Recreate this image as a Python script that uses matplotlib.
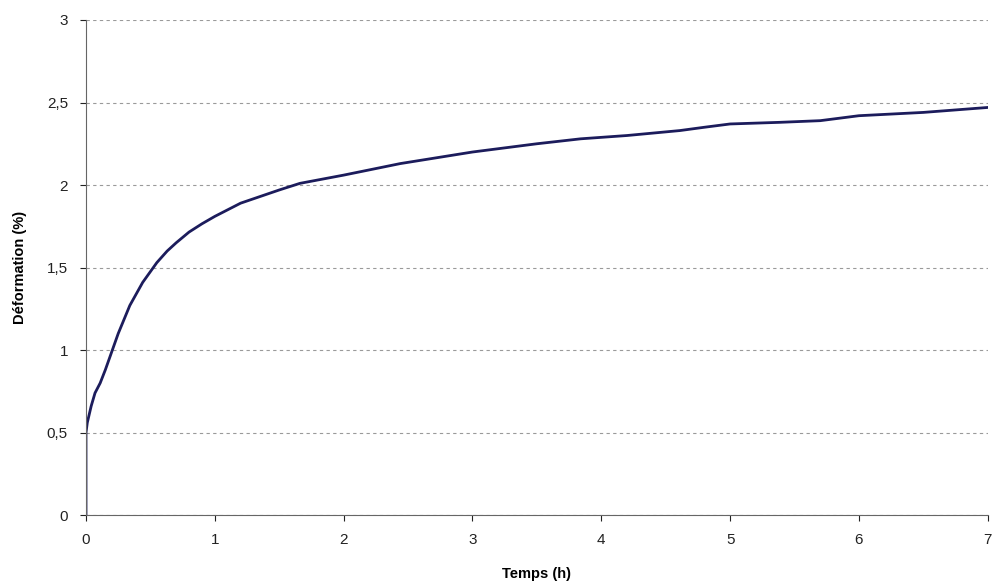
import matplotlib.pyplot as plt

# Courbe de fluage : temps (h) vs deformation (%)
temps = [0, 0.0, 0.01, 0.04, 0.07, 0.11, 0.15, 0.2, 0.25, 0.34, 0.44, 0.55, 0.63, 0.7,
         0.8, 0.9, 1.0, 1.2, 1.5, 1.66, 2.0, 2.44, 3.0, 3.5, 3.84, 4.2, 4.61, 4.8,
         5.0, 5.39, 5.7, 6.0, 6.5, 7.0]
deformation = [0, 0.5, 0.56, 0.66, 0.74, 0.8, 0.88, 0.99, 1.1, 1.27, 1.41, 1.53, 1.6,
               1.65, 1.715, 1.765, 1.81, 1.89, 1.97, 2.01, 2.06, 2.13, 2.2, 2.25, 2.28,
               2.3, 2.33, 2.35, 2.37, 2.38, 2.39, 2.42, 2.44, 2.47]

x_ticks = [0, 1, 2, 3, 4, 5, 6, 7]
y_ticks = [0, 0.5, 1, 1.5, 2, 2.5, 3]
y_labels = ['0', '0,5', '1', '1,5', '2', '2,5', '3']

plt.rcParams['font.family'] = ['Liberation Sans', 'DejaVu Sans']

fig = plt.figure(figsize=(9.92, 5.88), dpi=100)
ax = fig.add_axes([0.0867, 0.124, 0.909, 0.842])

ax.plot(temps, deformation, color='#1c1c5c', linewidth=2)

ax.set_xlim(0, 7)
ax.set_ylim(0, 3)
ax.set_xticks(x_ticks)
ax.set_xticklabels([str(t) for t in x_ticks])
ax.set_yticks(y_ticks)
ax.set_yticklabels(y_labels)
ax.tick_params(labelsize=11, colors='#222222', length=4, pad=9)

ax.yaxis.grid(True, linestyle=(0, (3, 3)), color='#9a9a9a', linewidth=0.8)
ax.set_axisbelow(True)
for s in ['top', 'right']:
    ax.spines[s].set_visible(False)
for s in ['left', 'bottom']:
    ax.spines[s].set_color('#666666')

ax.set_xlabel('Temps (h)', fontsize=10.5, fontweight='bold', labelpad=14)
ax.set_ylabel('Déformation (%)', fontsize=10.5, fontweight='bold', labelpad=14)

fig.savefig('out.png', dpi=100)
